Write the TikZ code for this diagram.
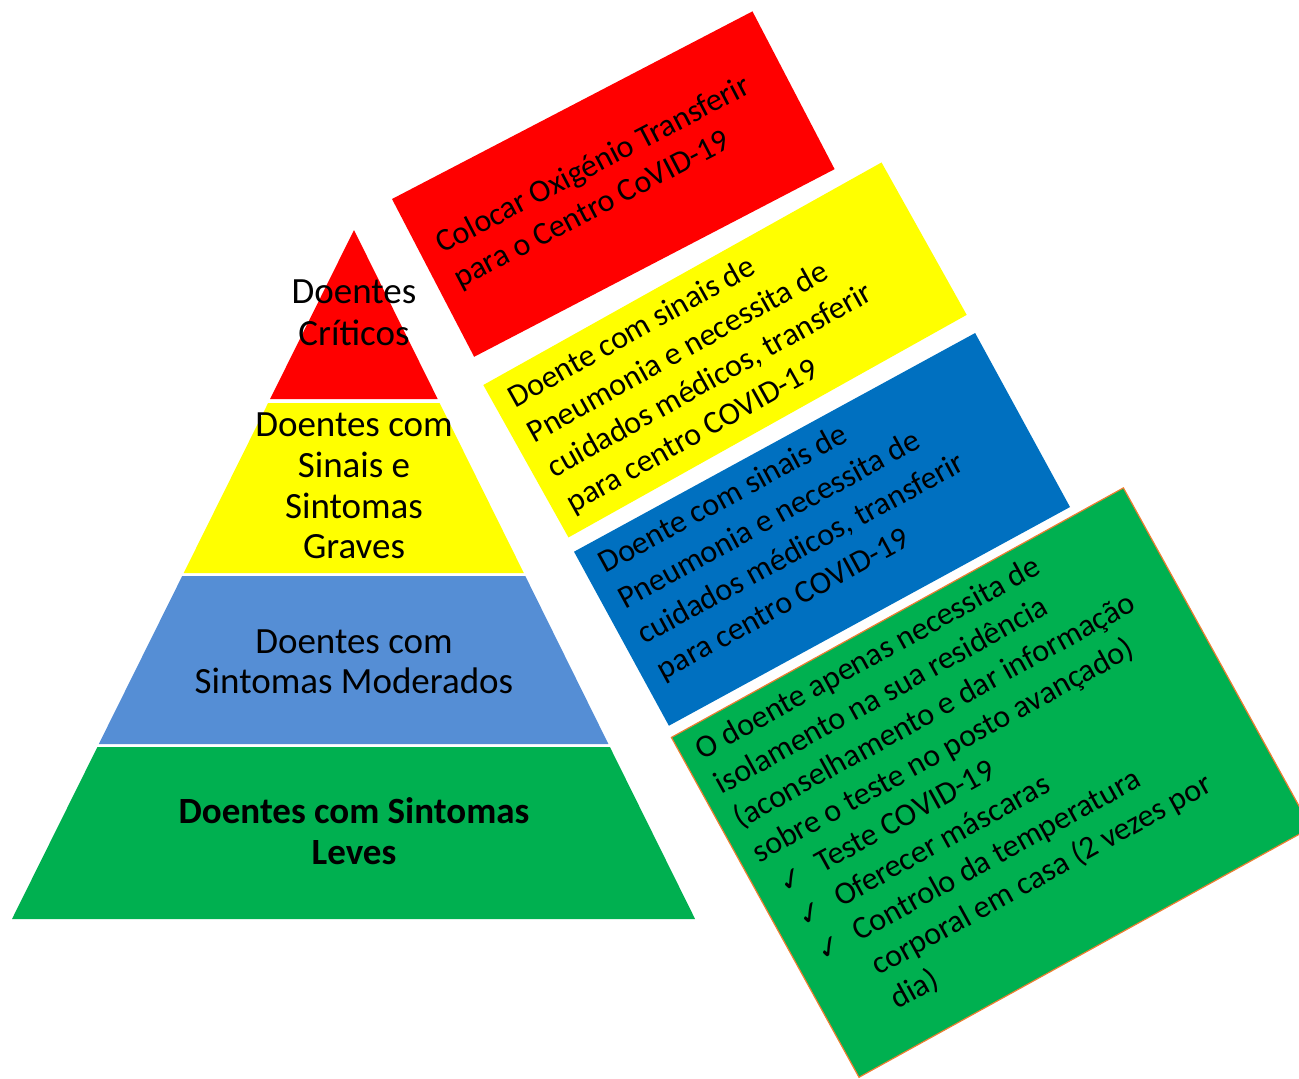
\documentclass[tikz,border=0pt]{standalone}
\usepackage{fontspec}
\setmainfont{Carlito}
\newfontfamily\checkfont{DejaVu Sans}
\definecolor{pred}{HTML}{FF0000}
\definecolor{pyel}{HTML}{FFFF00}
\definecolor{pblue}{HTML}{558ED5}
\definecolor{bblue}{HTML}{0070C0}
\definecolor{pgreen}{HTML}{00B050}
\definecolor{porange}{HTML}{ED7D31}
\begin{document}
\begin{tikzpicture}[x=0.5pt,y=-0.5pt,
  pyr/.style={font=\fontsize{18.5}{20.5}\selectfont, anchor=base, inner sep=0pt},
  pyrb/.style={pyr, font=\fontsize{18.5}{20.5}\selectfont\bfseries},
  boxtxt/.style={font=\fontsize{16}{20}\selectfont, anchor=base west, inner sep=0pt},
  chk/.style={font=\checkfont\fontsize{15}{17}\selectfont, anchor=base west, inner sep=0pt}]
\useasboundingbox (0,0) rectangle (1299,1078);
\clip (0,0) rectangle (1299,1078);

% pyramid
\fill[pred] (354,230) -- (437.7,399) -- (270.1,399) -- cycle;
\fill[pyel] (268.1,403) -- (439.6,403) -- (523.8,573) -- (183.7,573) -- cycle;
\fill[pblue] (182.2,576) -- (525.3,576) -- (608.4,744) -- (98.8,744) -- cycle;
\fill[pgreen] (97.4,747) -- (609.9,747) -- (695.1,919) -- (12,919) -- cycle;

\node[pyr] (c1) at (354,303) {Doentes};
\node[pyr] (c2) at (354,345) {Críticos};
\node[pyr] (g1) at (354,436) {Doentes com};
\node[pyr] (g2) at (354,477) {Sinais e};
\node[pyr] (g3) at (354,518) {Sintomas};
\node[pyr] (g4) at (354,558) {Graves};
\node[pyr] (m1) at (354,653) {Doentes com};
\node[pyr] (m2) at (354,693) {Sintomas Moderados};
\node[pyrb] (l1) at (354,823) {Doentes com Sintomas};
\node[pyrb] (l2) at (354,864) {Leves};

% red box
\begin{scope}[shift={(392,199)}, rotate=27.5, transform shape]
\fill[pred] (0,0) rectangle (406.4,177.9);
\node[boxtxt] (r1) at (19,72) {Colocar Oxigénio Transferir};
\node[boxtxt] (r2) at (19,111) {para o Centro CoVID-19};
\end{scope}

% yellow box
\begin{scope}[shift={(483.3,385)}, rotate=29.2, transform shape]
\fill[pyel] (0,0) rectangle (456.2,174.6);
\node[boxtxt] (y1) at (16,36) {Doente com sinais de};
\node[boxtxt] (y2) at (16,76) {Pneumonia e necessita de};
\node[boxtxt] (y3) at (16,116) {cuidados médicos, transferir};
\node[boxtxt] (y4) at (16,156) {para centro COVID-19};
\end{scope}

% blue box
\begin{scope}[shift={(574,551.7)}, rotate=28.6, transform shape]
\fill[bblue] (0,0) rectangle (456.9,198.2);
\node[boxtxt] (b1) at (17,34.5) {Doente com sinais de};
\node[boxtxt] (b2) at (17,75) {Pneumonia e necessita de};
\node[boxtxt] (b3) at (17,115.5) {cuidados médicos, transferir};
\node[boxtxt] (b4) at (17,156) {para centro COVID-19};
\end{scope}

% green box
\begin{scope}[shift={(671.4,737.4)}, rotate=28.9, transform shape]
\filldraw[fill=pgreen, draw=porange, line width=0.6pt] (0,0) rectangle (516.3,388.2);
\node[boxtxt] (e1) at (16,35.2) {O doente apenas necessita de};
\node[boxtxt] (e2) at (16,74.3) {isolamento na sua residência};
\node[boxtxt] (e3) at (16,113.4) {(aconselhamento e dar informação};
\node[boxtxt] (e4) at (16,152.5) {sobre o teste no posto avançado)};
\node[chk] (k1) at (24,192.6) {✓};
\node[boxtxt] (e5) at (66,191.6) {Teste COVID-19};
\node[chk] (k2) at (24,231.7) {✓};
\node[boxtxt] (e6) at (66,230.7) {Oferecer máscaras};
\node[chk] (k3) at (24,270.8) {✓};
\node[boxtxt] (e7) at (66,269.8) {Controlo da temperatura};
\node[boxtxt] (e8) at (66,308.9) {corporal em casa (2 vezes por};
\node[boxtxt] (e9) at (66,348.0) {dia)};
\end{scope}
\end{tikzpicture}
\end{document}
